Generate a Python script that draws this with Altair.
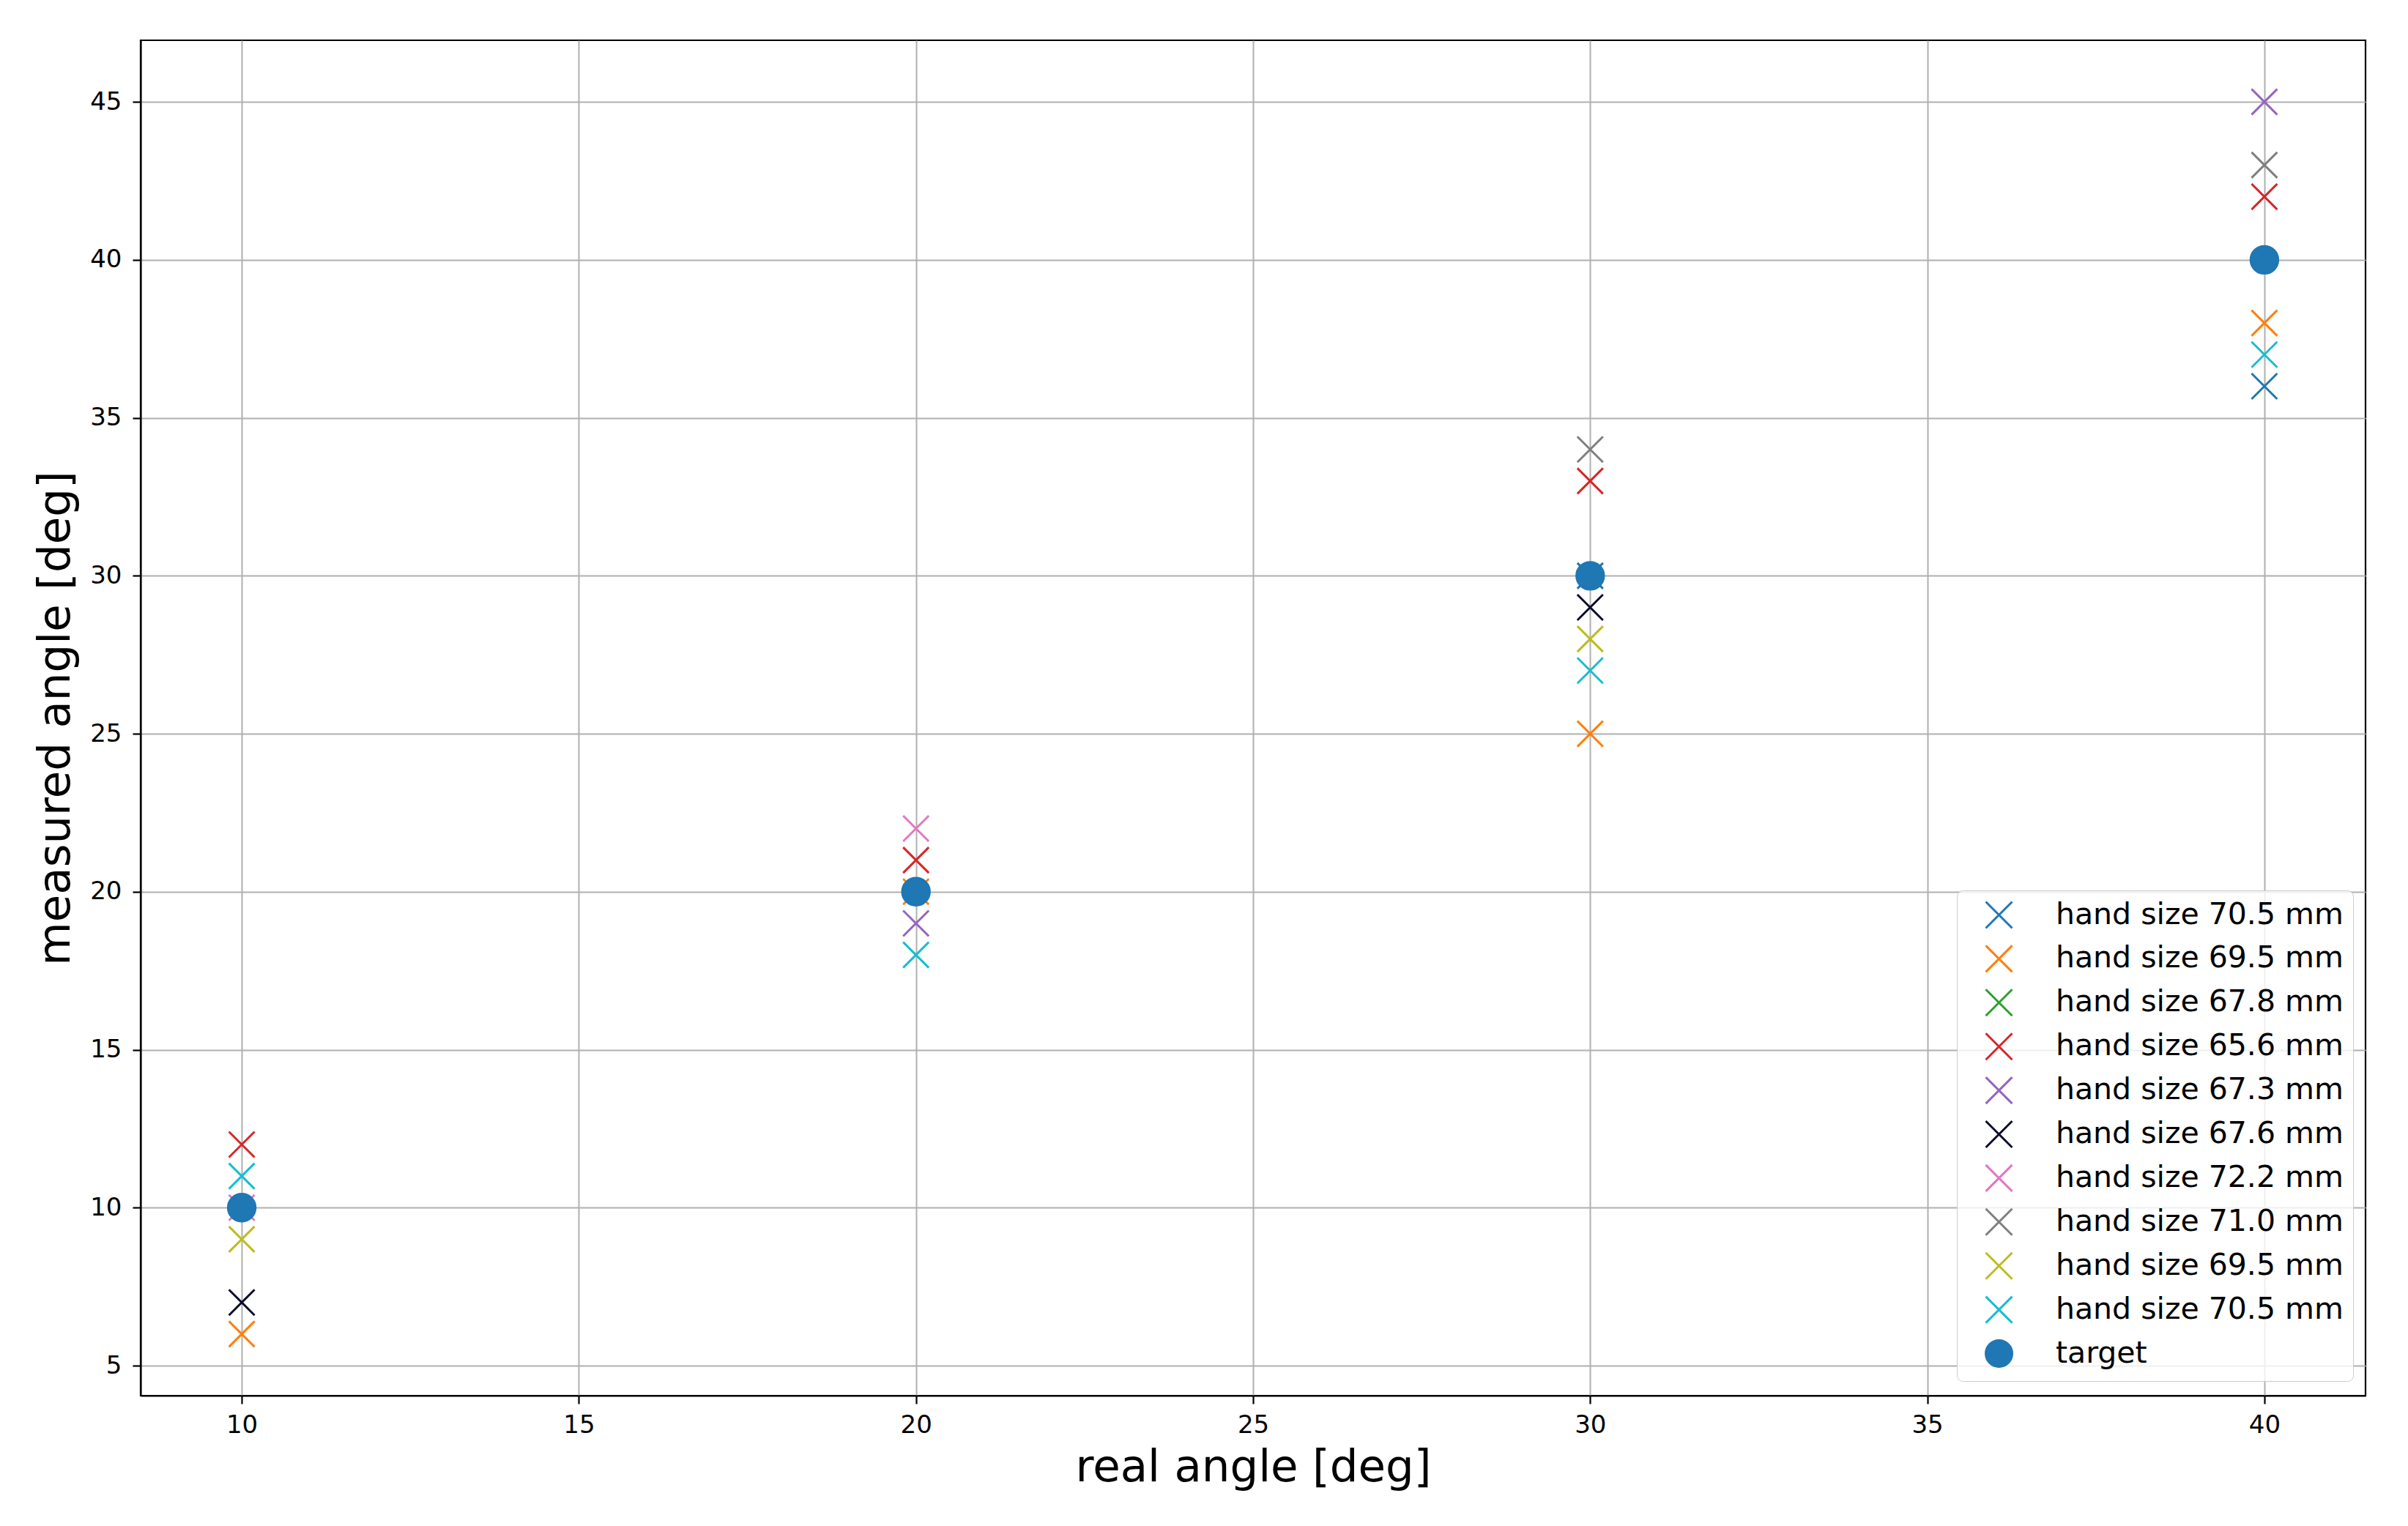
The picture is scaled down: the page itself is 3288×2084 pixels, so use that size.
import json
import altair as alt
import pandas as pd

# ---- data ----
angles = [10, 20, 30, 40]
series_names = [
    "hand size 70.5 mm", "hand size 69.5 mm", "hand size 67.8 mm",
    "hand size 65.6 mm", "hand size 67.3 mm", "hand size 67.6 mm",
    "hand size 72.2 mm", "hand size 71.0 mm", "hand size 69.5 mm",
    "hand size 70.5 mm", "target",
]
hand_705_a = [None, None, 30, 36]
hand_695_a = [6, 20, 25, 38]
hand_678 = [None, None, None, None]
hand_656 = [12, 21, 33, 42]
hand_673 = [None, 19, None, 45]
hand_676 = [7, None, 29, None]
hand_722 = [10, 22, None, None]
hand_710 = [None, None, 34, 43]
hand_695_b = [9, None, 28, None]
hand_705_b = [11, 18, 27, 37]
target = [10, 20, 30, 40]

x_ticks = [10, 15, 20, 25, 30, 35, 40]
y_ticks = [5, 10, 15, 20, 25, 30, 35, 40, 45]

colors = ["#1f77b4", "#ff7f0e", "#2ca02c", "#d62728", "#9467bd", "#0c0c2c",
          "#e377c2", "#7f7f7f", "#bcbd22", "#17becf", "#1f77b4"]
X_PATH = "M-1,-1L1,1M-1,1L1,-1"
shapes = [X_PATH] * 10 + ["circle"]

all_series = [hand_705_a, hand_695_a, hand_678, hand_656, hand_673, hand_676,
              hand_722, hand_710, hand_695_b, hand_705_b, target]
keys = [str(i) for i in range(len(all_series))]

rows = []
for k, vals in zip(keys, all_series):
    for a, v in zip(angles, vals):
        if v is not None:
            rows.append({"angle": a, "measured": v, "key": k})
df = pd.DataFrame(rows)

label_expr = "[" + ",".join(json.dumps(n) for n in series_names) + "][toNumber(datum.value)]"

leg = alt.Legend(
    title=None, orient="none", legendX=2480, legendY=1161,
    labelExpr=label_expr, symbolSize=1296, symbolStrokeWidth=3,
    labelFontSize=41, labelFont="DejaVu Sans", labelColor="black",
    padding=13, rowPadding=10.9, symbolOffset=24, labelOffset=57,
    strokeColor="#cccccc", fillColor="rgba(255,255,255,0.8)",
    cornerRadius=8, labelLimit=0,
)

chart = alt.Chart(df).transform_calculate(
    sz="datum.key == '10' ? 1400 : 1225"
).mark_point(filled=True, opacity=1, strokeWidth=3).encode(
    x=alt.X("angle:Q", scale=alt.Scale(domain=[8.5, 41.5], nice=False, zero=False),
            axis=alt.Axis(values=x_ticks, title="real angle [deg]", format="d")),
    y=alt.Y("measured:Q", scale=alt.Scale(domain=[4.05, 46.95], nice=False, zero=False),
            axis=alt.Axis(values=y_ticks, title="measured angle [deg]", format="d")),
    fill=alt.Fill("key:N", scale=alt.Scale(domain=keys, range=colors), legend=leg),
    stroke=alt.Stroke("key:N", scale=alt.Scale(domain=keys, range=colors), legend=leg),
    shape=alt.Shape("key:N", scale=alt.Scale(domain=keys, range=shapes), legend=leg),
    size=alt.Size("sz:Q", scale=None, legend=None),
).properties(
    width=3038, height=1851,
    autosize=alt.AutoSizeParams(type="none"),
    padding={"left": 184, "top": 47, "right": 50, "bottom": 170},
).configure(
    font="DejaVu Sans",
).configure_view(
    stroke="black", strokeWidth=2.2,
).configure_axis(
    labelFontSize=34, labelFont="DejaVu Sans", labelColor="black",
    titleFontSize=61, titleFont="DejaVu Sans", titleColor="black", titleFontWeight="normal",
    tickColor="black", tickSize=11, tickWidth=2.2,
    domainColor="black", domainWidth=2.2,
    grid=True, gridColor="#b0b0b0", gridWidth=2,
).configure_axisX(
    labelPadding=12, titlePadding=11,
).configure_axisY(
    labelPadding=15, titlePadding=15,
)

chart.save("out.html", embed_options={"renderer": "svg", "actions": False})
